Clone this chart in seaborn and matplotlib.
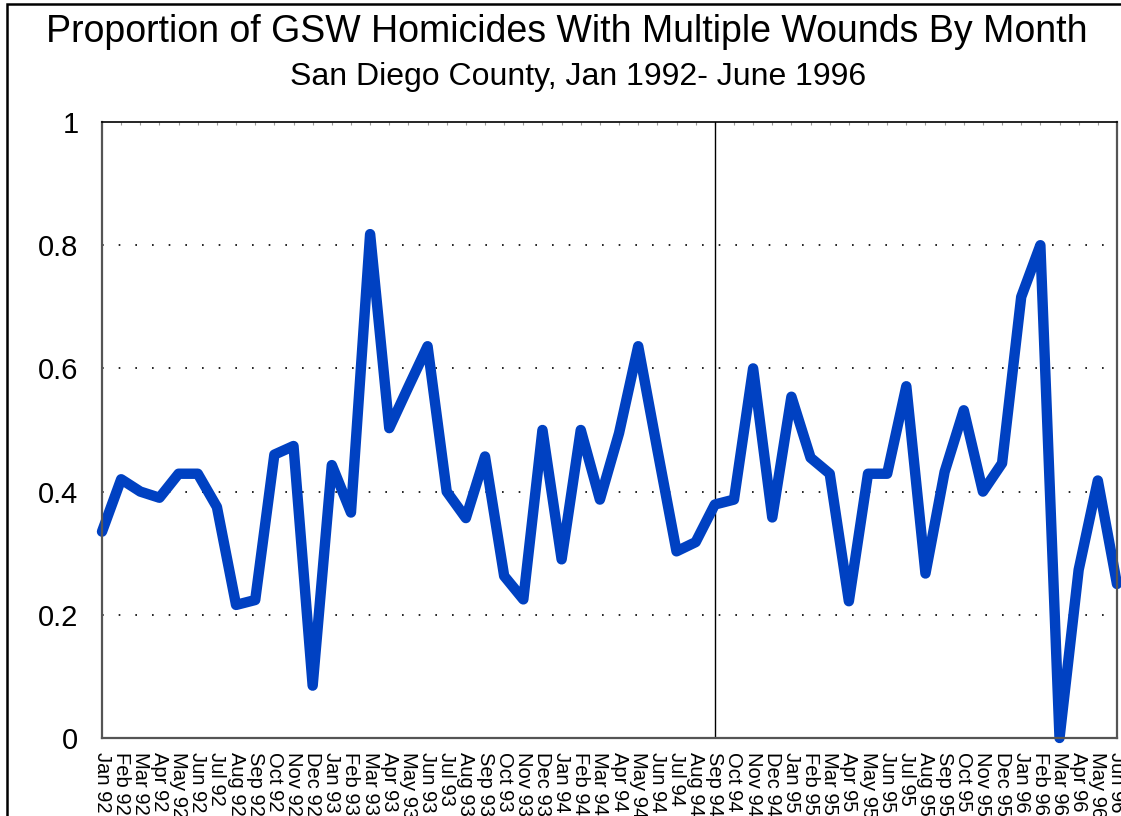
import matplotlib
matplotlib.use("Agg")
import matplotlib.pyplot as plt
from matplotlib.patches import Rectangle
import seaborn as sns
import pandas as pd
import numpy as np

# monthly labels Jan 92 .. Jun 96
months = ['Jan', 'Feb', 'Mar', 'Apr', 'May', 'Jun',
          'Jul', 'Aug', 'Sep', 'Oct', 'Nov', 'Dec']
labels = [f'{m} {y}' for y in ['92', '93', '94', '95', '96'] for m in months][:54]

# proportion
prop_92 = [0.335, 0.42, 0.40, 0.39, 0.429, 0.429, 0.375, 0.216, 0.224, 0.46, 0.474, 0.085]
prop_93 = [0.443, 0.366, 0.818, 0.503, 0.57, 0.636, 0.40, 0.357, 0.457, 0.263, 0.225, 0.50]
prop_94 = [0.29, 0.50, 0.387, 0.495, 0.636, 0.468, 0.303, 0.318, 0.379, 0.387, 0.60, 0.358]
prop_95 = [0.554, 0.455, 0.429, 0.222, 0.429, 0.429, 0.571, 0.267, 0.432, 0.532, 0.40, 0.446]
prop_96 = [0.716, 0.80, 0.0, 0.273, 0.418, 0.25]
values = prop_92 + prop_93 + prop_94 + prop_95 + prop_96

yticks = [0, 0.2, 0.4, 0.6, 0.8, 1]
ytick_labels = ['0', '0.2', '0.4', '0.6', '0.8', '1']
marker_month = 'Sep 94'

df = pd.DataFrame({'idx': np.arange(len(values)), 'prop': values})

sns.set_style('white')
plt.rcParams['font.family'] = ['Liberation Sans', 'DejaVu Sans']
plt.rcParams['text.color'] = 'black'
plt.rcParams['xtick.labelcolor'] = 'black'
plt.rcParams['ytick.labelcolor'] = 'black'

fig = plt.figure(figsize=(11.21, 8.16), dpi=100)
ax = fig.add_axes([0.091, 0.0956, 0.9054, 0.7549])

sns.lineplot(data=df, x='idx', y='prop', ax=ax, color='#0041C2', linewidth=7.5,
             solid_capstyle='round', solid_joinstyle='round', clip_on=False)

ax.set_xlim(0, len(values) - 1)
ax.set_ylim(0, 1)
ax.set_xlabel('')
ax.set_ylabel('')

ax.set_yticks(yticks)
ax.set_yticklabels(ytick_labels, fontsize=21)
ax.set_xticks(df['idx'])
ax.set_xticklabels(labels, rotation=-90, fontsize=14.5, va='top', ha='center')
ax.tick_params(axis='y', length=0, pad=17)
ax.tick_params(axis='x', direction='in', length=2, color='#999999', pad=10, top=True)

for v in yticks[1:-1]:
    ax.axhline(v, color='black', lw=1.2, linestyle=(0, (1, 9)), zorder=0)

ax.axvline(labels.index(marker_month), color='black', lw=1.0, zorder=1)

for side in ['left', 'bottom', 'right']:
    ax.spines[side].set_color('#555555')
    ax.spines[side].set_linewidth(1.6)
ax.spines['top'].set_color('black')
ax.spines['top'].set_linewidth(1.2)

fig.text(0.506, 0.961, 'Proportion of GSW Homicides With Multiple Wounds By Month',
         ha='center', va='center', fontsize=27)
fig.text(0.516, 0.906, 'San Diego County, Jan 1992- June 1996',
         ha='center', va='center', fontsize=23)

# outer frame
fig.patches.append(Rectangle((7 / 1121, -0.1), 1.2, 1.1 - 3.5 / 816, transform=fig.transFigure,
                             fill=False, edgecolor='black', lw=1.8))

fig.savefig('out.png', dpi=100)
